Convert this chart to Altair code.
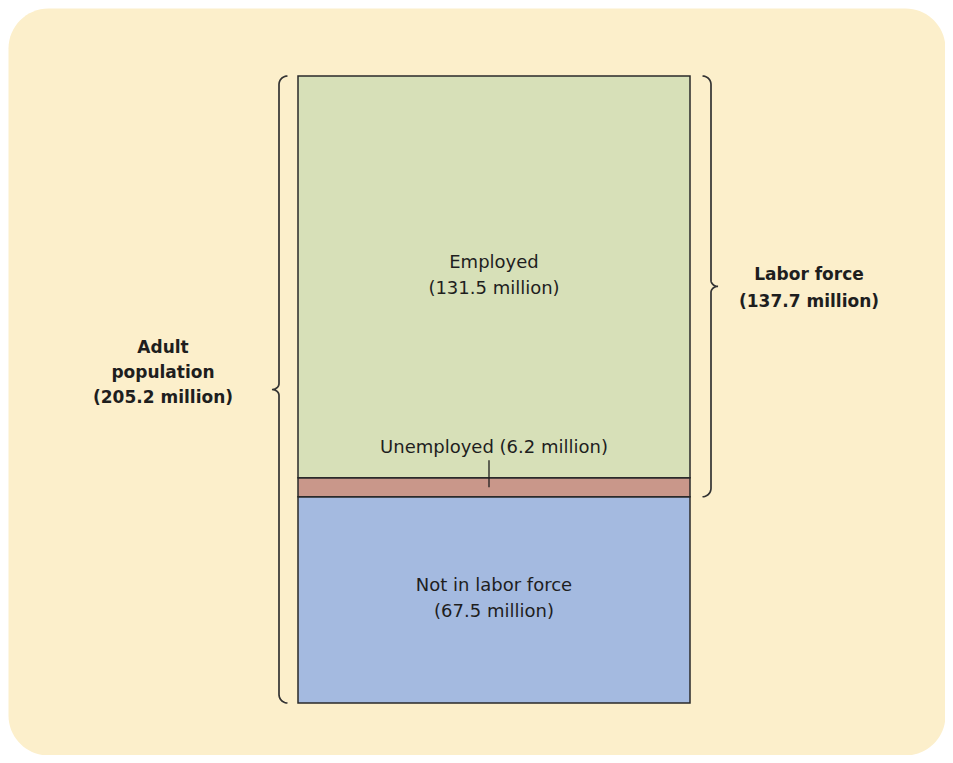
import altair as alt
import numpy as np
import pandas as pd

# ---- data ----
categories = ["Not in labor force", "Unemployed", "Employed"]
values = [67.5, 6.2, 131.5]
inner_labels = ["Not in labor force\n(67.5 million)", "Unemployed (6.2 million)", "Employed\n(131.5 million)"]
colors = ["#A4BAE0", "#C9978A", "#D7E0B8"]

labor_force = 137.7
adult_population = 205.2
side_labels = ["Adult\npopulation\n(205.2 million)", "Labor force\n(137.7 million)"]

# ---- layout (pixels in plot coordinates) ----
W, H = 937, 747
Y_BOTTOM, Y_TOP = 695, 68
BAR_L, BAR_R = 290, 682
TEXT_X = 486
TICK_X = 481
LEFT_SPINE, RIGHT_SPINE = 271, 703
ADULT_X, LABOR_X = 155, 801
INK = "#1e1e1e"
FONT = "DejaVu Sans"

units_per_px = adult_population / (Y_BOTTOM - Y_TOP)
yscale = alt.Scale(domain=[0, adult_population], range=[Y_BOTTOM, Y_TOP], nice=False, zero=False)

# stacked bar table
y0 = np.concatenate([[0], np.cumsum(values)[:-1]])
y1 = np.cumsum(values)
bars = pd.DataFrame({"category": categories, "y0": y0, "y1": y1,
                     "mid": (y0 + y1) / 2, "label": inner_labels})


def brace(name, spine, hook_dir, v_lo, v_hi, r=8.5, tip=7, h=6, n=10):
    k = units_per_px
    mid = (v_lo + v_hi) / 2
    t = np.linspace(0, np.pi / 2, n)
    xs, vs = [], []
    # top hook
    xs += list(spine + hook_dir * r - hook_dir * r * np.sin(t))
    vs += list(v_hi - r * k * (1 - np.cos(t)))
    # upper half of tip
    cx = spine - hook_dir * tip
    xs += list(cx + hook_dir * tip * np.cos(t))
    vs += list(mid + h * k - h * k * np.sin(t))
    # lower half of tip
    xs += list(cx + hook_dir * tip * np.sin(t))
    vs += list(mid - h * k + h * k * np.cos(t))
    # bottom hook
    xs += list(spine + hook_dir * r - hook_dir * r * np.cos(t))
    vs += list(v_lo + r * k - r * k * np.sin(t))
    return pd.DataFrame({"brace": name, "i": range(len(xs)), "px": xs, "v": vs})


braces = pd.concat([
    brace("adult", LEFT_SPINE, 1, 0, adult_population),
    brace("labor", RIGHT_SPINE, -1, adult_population - labor_force, adult_population),
])

rects = alt.Chart(bars).mark_rect(stroke="#2a2a2a", strokeWidth=1.5).encode(
    x=alt.value(BAR_L), x2=alt.value(BAR_R),
    y=alt.Y("y0:Q", scale=yscale, axis=None), y2="y1:Q",
    color=alt.Color("category:N", scale=alt.Scale(domain=categories, range=colors), legend=None),
)

big_labels = alt.Chart(bars).transform_filter(
    alt.datum.category != "Unemployed"
).mark_text(lineBreak="\n", fontSize=18, lineHeight=26, font=FONT, color=INK,
            align="center", baseline="middle", dy=-14).encode(
    x=alt.value(TEXT_X), y=alt.Y("mid:Q", scale=yscale), text="label:N")

unemp = bars[bars.category == "Unemployed"].copy()
unemp["top"] = unemp["mid"] + 27 * units_per_px

tick = alt.Chart(unemp).mark_rule(color=INK, strokeWidth=1.3).encode(
    x=alt.value(TICK_X), y=alt.Y("mid:Q", scale=yscale), y2="top:Q")

unemp_label = alt.Chart(unemp).mark_text(fontSize=18, font=FONT, color=INK,
                                         align="center", baseline="alphabetic", dy=-7).encode(
    x=alt.value(TEXT_X), y=alt.Y("top:Q", scale=yscale), text="label:N")

brace_lines = alt.Chart(braces).mark_line(color="#333333", strokeWidth=1.7).encode(
    x=alt.X("px:Q", scale=None, axis=None),
    y=alt.Y("v:Q", scale=yscale),
    detail="brace:N", order="i:Q")

side = pd.DataFrame({"label": side_labels,
                     "v": [adult_population / 2, adult_population - labor_force / 2]})

adult_text = alt.Chart(side.iloc[[0]]).mark_text(
    lineBreak="\n", fontSize=17, fontWeight="bold", lineHeight=25, font=FONT, color=INK,
    align="center", baseline="middle", dy=-42).encode(
    x=alt.value(ADULT_X), y=alt.Y("v:Q", scale=yscale), text="label:N")

labor_text = alt.Chart(side.iloc[[1]]).mark_text(
    lineBreak="\n", fontSize=17, fontWeight="bold", lineHeight=27, font=FONT, color=INK,
    align="center", baseline="middle", dy=-11).encode(
    x=alt.value(LABOR_X), y=alt.Y("v:Q", scale=yscale), text="label:N")

chart = alt.layer(rects, brace_lines, tick, big_labels, unemp_label, adult_text, labor_text).properties(
    width=W, height=H, padding=0, background="white"
).configure_view(fill="#FCEFCB", stroke="transparent", cornerRadius=40)

chart.save("out.html", embed_options={"renderer": "svg", "actions": False})
